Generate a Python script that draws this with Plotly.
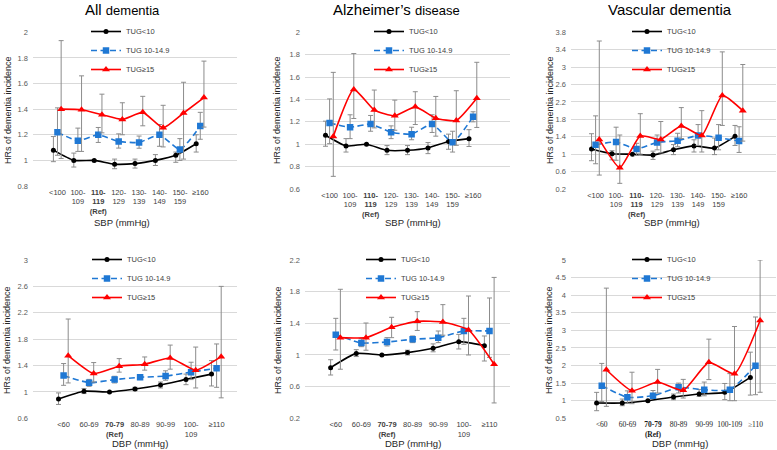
import plotly.graph_objects as go

W, H = 777, 450
FONT = "Liberation Sans, Arial, sans-serif"
SERIF = "Liberation Serif, Times New Roman, serif"

# ---------------- data ----------------
groups = ["TUG<10", "TUG 10-14.9", "TUG≥15"]

sbp_labels = ["<100", "100-<br>109", "<b>110-</b><br><b>119</b><br><b>(Ref)</b>",
              "120-<br>129", "130-<br>139", "140-<br>149", "150-<br>159", "≥160"]
dbp_labels = ["<60", "60-69", "<b>70-79</b><br><b>(Ref)</b>", "80-89", "90-99",
              "100-<br>109", "≥110"]
dbp_labels_vd = ["<60", "60-69", "<b>70-79</b><br><b>(Ref)</b>", "80-89", "90-99",
                 "100-109", "≥110"]

# All dementia - SBP  (rows: TUG<10, TUG 10-14.9, TUG>=15)
all_sbp_hr = [[1.08, 1.00, 1.00, 0.97, 0.975, 1.00, 1.04, 1.13],
              [1.22, 1.153, 1.20, 1.148, 1.14, 1.20, 1.085, 1.268],
              [1.40, 1.395, 1.357, 1.32, 1.375, 1.255, 1.37, 1.49]]
all_sbp_lo = [[0.99, 0.948, None, 0.935, 0.94, 0.96, 0.985, 1.065],
              [1.04, 1.07, 1.14, 1.096, 1.095, 1.11, 1.00, 1.165],
              [1.015, 1.07, 1.215, 1.20, 1.27, 1.105, 1.01, 1.26]]
all_sbp_hi = [[1.186, 1.057, None, 1.01, 1.01, 1.045, 1.065, 1.20],
              [1.41, 1.252, 1.257, 1.207, 1.19, 1.28, 1.17, 1.375],
              [1.935, 1.66, 1.517, 1.45, 1.50, 1.43, 1.61, 1.775]]

# Alzheimer's disease - SBP
ad_sbp_hr = [[1.08, 0.985, 1.00, 0.946, 0.946, 0.967, 1.024, 1.05],
             [1.19, 1.152, 1.18, 1.107, 1.09, 1.18, 1.018, 1.246],
             [1.07, 1.49, 1.305, 1.254, 1.334, 1.233, 1.212, 1.41]]
ad_sbp_lo = [[0.982, 0.93, None, 0.907, 0.907, 0.916, 0.955, 0.98],
             [1.005, 1.05, 1.116, 1.05, 1.04, 1.105, 0.93, 1.20],
             [0.713, 1.23, 1.146, 1.125, 1.176, 1.072, 0.99, 1.15]]
ad_sbp_hi = [[1.206, 1.05, None, 0.988, 0.988, 1.015, 1.09, 1.13],
             [1.405, 1.263, 1.257, 1.164, 1.152, 1.263, 1.116, 1.29],
             [1.642, 1.81, 1.484, 1.394, 1.469, 1.427, 1.478, 1.732]]

# Vascular dementia - SBP
vd_sbp_hr = [[1.12, 1.01, 1.00, 0.98, 1.10, 1.19, 1.14, 1.41],
             [1.215, 1.28, 1.12, 1.27, 1.31, 1.43, 1.38, 1.30],
             [1.34, 0.69, 1.42, 1.34, 1.65, 1.43, 2.35, 2.00]]
vd_sbp_lo = [[0.85, 0.87, None, 0.88, 0.99, 1.05, 0.99, 1.20],
             [0.78, 0.86, 0.97, 1.10, 1.17, 1.20, 1.10, 1.04],
             [0.52, 0.33, 1.00, 1.03, 1.36, 1.05, 1.66, 1.30]]
vd_sbp_hi = [[1.47, 1.08, None, 1.07, 1.22, 1.33, 1.37, 1.66],
             [1.88, 1.62, 1.25, 1.44, 1.48, 1.68, 1.68, 1.63],
             [3.60, 1.44, 1.93, 1.75, 2.07, 2.00, 3.35, 3.06]]

# All dementia - DBP
all_dbp_hr = [[0.894, 1.01, 1.00, 1.045, 1.106, 1.19, 1.27],
              [1.247, 1.14, 1.187, 1.222, 1.24, 1.30, 1.36],
              [1.55, 1.278, 1.39, 1.42, 1.515, 1.33, 1.535]]
all_dbp_lo = [[0.81, 0.975, None, 1.02, 1.06, 1.11, 1.09],
              [1.10, 1.085, 1.136, 1.187, 1.177, 1.187, 1.07],
              [1.136, 1.15, 1.30, 1.33, 1.345, 1.06, 0.91]]
all_dbp_hi = [[0.985, 1.05, None, 1.07, 1.15, 1.27, 1.475],
              [1.43, 1.19, 1.237, 1.262, 1.32, 1.45, 1.727],
              [2.105, 1.445, 1.505, 1.53, 1.71, 1.68, 2.60]]

# Alzheimer's disease - DBP
ad_dbp_hr = [[0.84, 1.02, 1.00, 1.03, 1.084, 1.168, 1.118],
             [1.257, 1.152, 1.164, 1.198, 1.219, 1.303, 1.303],
             [1.219, 1.219, 1.35, 1.425, 1.417, 1.316, 0.882]]
ad_dbp_lo = [[0.747, 0.98, None, 1.00, 1.04, 1.076, 0.924],
             [1.063, 1.105, 1.114, 1.156, 1.156, 1.135, 0.97],
             [0.82, 1.06, 1.219, 1.31, 1.25, 1.00, 0.394]]
ad_dbp_hi = [[0.94, 1.067, None, 1.06, 1.14, 1.26, 1.24],
             [1.463, 1.206, 1.219, 1.24, 1.303, 1.463, 1.72],
             [1.83, 1.404, 1.476, 1.547, 1.636, 1.745, 1.98]]

# Vascular dementia - DBP
vd_dbp_hr = [[0.934, 0.934, 1.00, 1.104, 1.19, 1.237, 1.663],
             [1.426, 1.095, 1.142, 1.38, 1.31, 1.31, 1.995],
             [1.88, 1.284, 1.53, 1.294, 2.09, 1.767, 3.28]]
vd_dbp_lo = [[0.716, 0.858, None, 1.028, 1.123, 1.03, 1.16],
             [0.98, 0.93, 1.076, 1.22, 1.14, 1.00, 1.17],
             [0.84, 0.915, 1.22, 1.076, 1.60, 1.00, 1.24]]
vd_dbp_hi = [[1.237, 1.047, None, 1.19, 1.32, 1.49, 2.38],
             [2.06, 1.28, 1.29, 1.50, 1.53, 1.77, 3.38],
             [4.20, 1.81, 1.89, 1.606, 2.75, 3.11, 5.00]]

# ---------------- layout / style ----------------
colors = ["#000000", "#1f78d4", "#ff0000"]
symbols = ["circle", "square", "triangle-up"]
msizes = [5, 6.5, 7]
dashes = ["solid", "6px,3.5px", "solid"]
offsets = [0.0, 0.2, 0.38]
ERR = "#8c8c8c"

panels = [
    dict(hr=all_sbp_hr, lo=all_sbp_lo, hi=all_sbp_hi, labels=sbp_labels,
         xpx=(33, 237), ypx=(32.3, 186.0), xr=(0, 10), yr=(0.8, 2.0), tick0=0, dtick=0.2,
         xfont=FONT, xcol="#404040", leg=(86, 17), ytitle=(8, 110), xtitle=(122, 222)),
    dict(hr=ad_sbp_hr, lo=ad_sbp_lo, hi=ad_sbp_hi, labels=sbp_labels,
         xpx=(305, 510), ypx=(32.3, 189.0), xr=(0, 10), yr=(0.6, 2.0), tick0=0, dtick=0.2,
         xfont=FONT, xcol="#404040", leg=(369, 17), ytitle=(277, 110), xtitle=(413, 222)),
    dict(hr=vd_sbp_hr, lo=vd_sbp_lo, hi=vd_sbp_hi, labels=sbp_labels,
         xpx=(571, 776), ypx=(32.3, 189.0), xr=(0, 10), yr=(0.2, 3.8), tick0=0.2, dtick=0.4,
         xfont=FONT, xcol="#404040", leg=(627, 17), ytitle=(550, 110), xtitle=(672, 222)),
    dict(hr=all_dbp_hr, lo=all_dbp_lo, hi=all_dbp_hi, labels=dbp_labels,
         xpx=(33, 237), ypx=(260.0, 418.3), xr=(0, 8), yr=(0.6, 3.0), tick0=0.2, dtick=0.4,
         xfont=FONT, xcol="#404040", leg=(87, 245), ytitle=(7, 340), xtitle=(140, 443)),
    dict(hr=ad_dbp_hr, lo=ad_dbp_lo, hi=ad_dbp_hi, labels=dbp_labels,
         xpx=(305, 510), ypx=(260.0, 418.3), xr=(0, 8), yr=(0.2, 2.2), tick0=0.2, dtick=0.4,
         xfont=FONT, xcol="#404040", leg=(361, 245), ytitle=(278, 340), xtitle=(413, 443)),
    dict(hr=vd_dbp_hr, lo=vd_dbp_lo, hi=vd_dbp_hi, labels=dbp_labels_vd,
         xpx=(571, 776), ypx=(260.0, 418.3), xr=(0, 8), yr=(0.5, 5.0), tick0=0, dtick=0.5,
         xfont=SERIF, xcol="#1a1a1a", leg=(627, 245), ytitle=(549, 340), xtitle=(680, 443)),
]

fig = go.Figure()
layout = dict(
    width=W, height=H, margin=dict(l=0, r=0, t=0, b=0),
    paper_bgcolor="white", plot_bgcolor="white",
    font=dict(family=FONT, color="#404040"),
    annotations=[],
)

for k, p in enumerate(panels, start=1):
    sfx = "" if k == 1 else str(k)
    legname = "legend" if k == 1 else "legend" + str(k)
    n = len(p["labels"])
    for g in range(3):
        hr, lo, hi = p["hr"][g], p["lo"][g], p["hi"][g]
        up = [(h - v) if h is not None else 0 for v, h in zip(hr, hi)]
        dn = [(v - l) if l is not None else 0 for v, l in zip(hr, lo)]
        fig.add_trace(go.Scatter(
            x=[i + 1 + offsets[g] for i in range(n)], y=hr,
            mode="lines+markers", name=groups[g],
            line=dict(color=colors[g], width=1.6, dash=dashes[g], shape="spline", smoothing=0.5),
            marker=dict(symbol=symbols[g], size=msizes[g], color=colors[g], line=dict(width=0)),
            error_y=dict(type="data", symmetric=False, array=up, arrayminus=dn,
                         color=ERR, thickness=1, width=2.5),
            xaxis="x" + sfx, yaxis="y" + sfx, legend=legname, showlegend=True,
        ))
    x0, x1 = p["xpx"]
    yt, yb = p["ypx"]
    layout["xaxis" + sfx] = dict(
        domain=[x0 / W, x1 / W], range=list(p["xr"]), anchor="y" + sfx,
        tickmode="array", tickvals=[i + 1.2 for i in range(n)], ticktext=p["labels"],
        showgrid=False, zeroline=False, showline=False, ticks="",
        tickfont=dict(family=p["xfont"], size=7.5, color=p["xcol"]),
        automargin=False, fixedrange=True,
    )
    layout["yaxis" + sfx] = dict(
        domain=[1 - yb / H, 1 - yt / H], range=list(p["yr"]), anchor="x" + sfx,
        tick0=p["tick0"], dtick=p["dtick"], showgrid=True, gridcolor="#d9d9d9", gridwidth=1,
        zeroline=False, showline=False, ticks="", ticklabelstandoff=4,
        tickfont=dict(size=7.5, color="#595959"), automargin=False, fixedrange=True,
    )
    lx, ly = p["leg"]
    layout[legname] = dict(
        x=lx / W, y=1 - ly / H, xanchor="left", yanchor="top",
        bgcolor="rgba(0,0,0,0)", borderwidth=0,
        font=dict(size=7.5, color="#404040", family=FONT),
    )
    ax, ay = p["ytitle"]
    layout["annotations"].append(dict(
        text="HRs of dementia incidence", x=ax / W, y=1 - ay / H, xref="paper", yref="paper",
        textangle=-90, showarrow=False, font=dict(size=9, color="#262626"),
        xanchor="center", yanchor="middle"))
    tx, ty = p["xtitle"]
    layout["annotations"].append(dict(
        text=("SBP (mmHg)" if k <= 3 else "DBP (mmHg)"), x=tx / W, y=1 - ty / H,
        xref="paper", yref="paper", showarrow=False, font=dict(size=9.5, color="#262626"),
        xanchor="center", yanchor="middle"))

titles = [("All <span style='font-size:13px'>dementia</span>", 122),
          ("Alzheimer’s <span style='font-size:13px'>disease</span>", 396),
          ("Vascular dementia", 670)]
for t, cx in titles:
    layout["annotations"].append(dict(
        text=t, x=cx / W, y=1 - 9 / H, xref="paper", yref="paper", showarrow=False,
        font=dict(size=15, color="#000000"), xanchor="center", yanchor="middle"))

fig.update_layout(**layout)
fig.write_html("out.html", config={"displayModeBar": False},
               post_script="document.body.style.margin='0';document.body.style.overflow='hidden';")
